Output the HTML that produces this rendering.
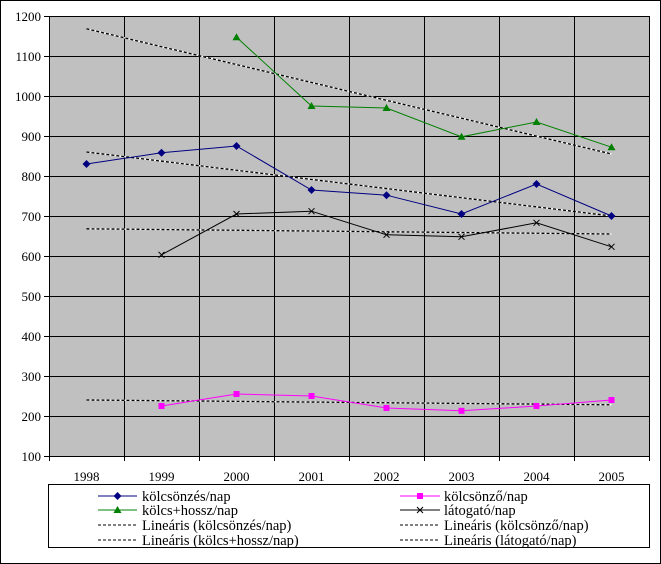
<!DOCTYPE html>
<html><head><meta charset="utf-8"><style>
html,body{margin:0;padding:0;background:#fff;}
svg{display:block;font-family:"Liberation Serif",serif;}
</style></head><body>
<svg width="661" height="564" viewBox="0 0 661 564">
<rect x="0.5" y="0.5" width="660" height="563" fill="#fff" stroke="#000"/>
<rect x="49" y="16" width="600" height="440" fill="#c0c0c0"/>
<g stroke="#000" stroke-width="1">
<path d="M49 16.5H649M49 56.5H649M49 96.5H649M49 136.5H649M49 176.5H649M49 216.5H649M49 256.5H649M49 296.5H649M49 336.5H649M49 376.5H649M49 416.5H649"/>
<path d="M124.5 16V461M199.5 16V461M274.5 16V461M349.5 16V461M424.5 16V461M499.5 16V461M574.5 16V461M649.5 16V461M49.5 461V16"/>
<path d="M49 456.5H650M44 16.5H49M44 56.5H49M44 96.5H49M44 136.5H49M44 176.5H49M44 216.5H49M44 256.5H49M44 296.5H49M44 336.5H49M44 376.5H49M44 416.5H49M44 456.5H49"/>
</g>
<g font-size="13" text-anchor="end">
<text x="41" y="21">1200</text><text x="41" y="61">1100</text><text x="41" y="101">1000</text><text x="41" y="141">900</text><text x="41" y="181">800</text><text x="41" y="221">700</text><text x="41" y="261">600</text><text x="41" y="301">500</text><text x="41" y="341">400</text><text x="41" y="381">300</text><text x="41" y="421">200</text><text x="41" y="461">100</text>
</g>
<g font-size="13" text-anchor="middle">
<text x="86.5" y="481">1998</text><text x="161.5" y="481">1999</text><text x="236.5" y="481">2000</text><text x="311.5" y="481">2001</text><text x="386.5" y="481">2002</text><text x="461.5" y="481">2003</text><text x="536.5" y="481">2004</text><text x="611.5" y="481">2005</text>
</g>
<!-- trends -->
<g fill="none" stroke-width="1.3">
<g stroke="#fff"><path d="M86.5 152L611.5 216M86.5 400L611.5 404.8M86.5 28.8L611.5 154M86.5 228.8L611.5 234"/></g>
<g stroke="#000" stroke-dasharray="3,2"><path d="M86.5 152L611.5 216M86.5 400L611.5 404.8M86.5 28.8L611.5 154M86.5 228.8L611.5 234"/></g>
</g>
<!-- series -->
<polyline fill="none" stroke="#000080" points="86.5,164 161.5,152.8 236.5,146 311.5,190 386.5,195.2 461.5,214 536.5,184 611.5,216"/>
<g fill="#000080"><path d="M86.5 160l4 4-4 4-4-4z M161.5 148.8l4 4-4 4-4-4z M236.5 142l4 4-4 4-4-4z M311.5 186l4 4-4 4-4-4z M386.5 191.2l4 4-4 4-4-4z M461.5 210l4 4-4 4-4-4z M536.5 180l4 4-4 4-4-4z M611.5 212l4 4-4 4-4-4z"/></g>
<polyline fill="none" stroke="#ff00ff" points="161.5,406 236.5,394 311.5,396 386.5,408 461.5,410.8 536.5,406 611.5,400"/>
<g fill="#ff00ff"><rect x="158.5" y="403" width="6" height="6"/><rect x="233.5" y="391" width="6" height="6"/><rect x="308.5" y="393" width="6" height="6"/><rect x="383.5" y="405" width="6" height="6"/><rect x="458.5" y="407.8" width="6" height="6"/><rect x="533.5" y="403" width="6" height="6"/><rect x="608.5" y="397" width="6" height="6"/></g>
<polyline fill="none" stroke="#008000" points="236.5,37.2 311.5,106 386.5,108 461.5,136.8 536.5,122 611.5,147.2"/>
<g fill="#008000"><path d="M236.5 33.2l4 7h-8z M311.5 102l4 7h-8z M386.5 104l4 7h-8z M461.5 132.8l4 7h-8z M536.5 118l4 7h-8z M611.5 143.2l4 7h-8z"/></g>
<polyline fill="none" stroke="#000" points="161.5,254.8 236.5,214 311.5,211.2 386.5,234.8 461.5,236.8 536.5,222.8 611.5,246.8"/>
<g stroke="#000"><path d="M158.5 251.8l6 6m0-6l-6 6 M233.5 211l6 6m0-6l-6 6 M308.5 208.2l6 6m0-6l-6 6 M383.5 231.8l6 6m0-6l-6 6 M458.5 233.8l6 6m0-6l-6 6 M533.5 219.8l6 6m0-6l-6 6 M608.5 243.8l6 6m0-6l-6 6"/></g>
<!-- legend -->
<rect x="48.5" y="484.5" width="601" height="63" fill="#fff" stroke="#000"/>
<g font-size="14.5">
<line x1="98" y1="496" x2="137" y2="496" stroke="#000080"/><path d="M117.5 492l4 4-4 4-4-4z" fill="#000080"/>
<text x="142" y="501">kölcsönzés/nap</text>
<line x1="98" y1="510" x2="137" y2="510" stroke="#008000"/><path d="M117.5 506l4 7h-8z" fill="#008000"/>
<text x="142" y="515">kölcs+hossz/nap</text>
<line x1="98" y1="525" x2="137" y2="525" stroke="#000" stroke-dasharray="3,2"/>
<text x="142" y="530">Lineáris (kölcsönzés/nap)</text>
<line x1="98" y1="540" x2="137" y2="540" stroke="#000" stroke-dasharray="3,2"/>
<text x="142" y="545">Lineáris (kölcs+hossz/nap)</text>
<line x1="400" y1="496" x2="440" y2="496" stroke="#ff00ff"/><rect x="417" y="493" width="6" height="6" fill="#ff00ff"/>
<text x="444" y="501">kölcsönző/nap</text>
<line x1="400" y1="510" x2="440" y2="510" stroke="#000"/><path d="M417 507l6 6m0-6l-6 6" stroke="#000"/>
<text x="444" y="515">látogató/nap</text>
<line x1="400" y1="525" x2="440" y2="525" stroke="#000" stroke-dasharray="3,2"/>
<text x="444" y="530">Lineáris (kölcsönző/nap)</text>
<line x1="400" y1="540" x2="440" y2="540" stroke="#000" stroke-dasharray="3,2"/>
<text x="444" y="545">Lineáris (látogató/nap)</text>
</g>
</svg>
</body></html>
